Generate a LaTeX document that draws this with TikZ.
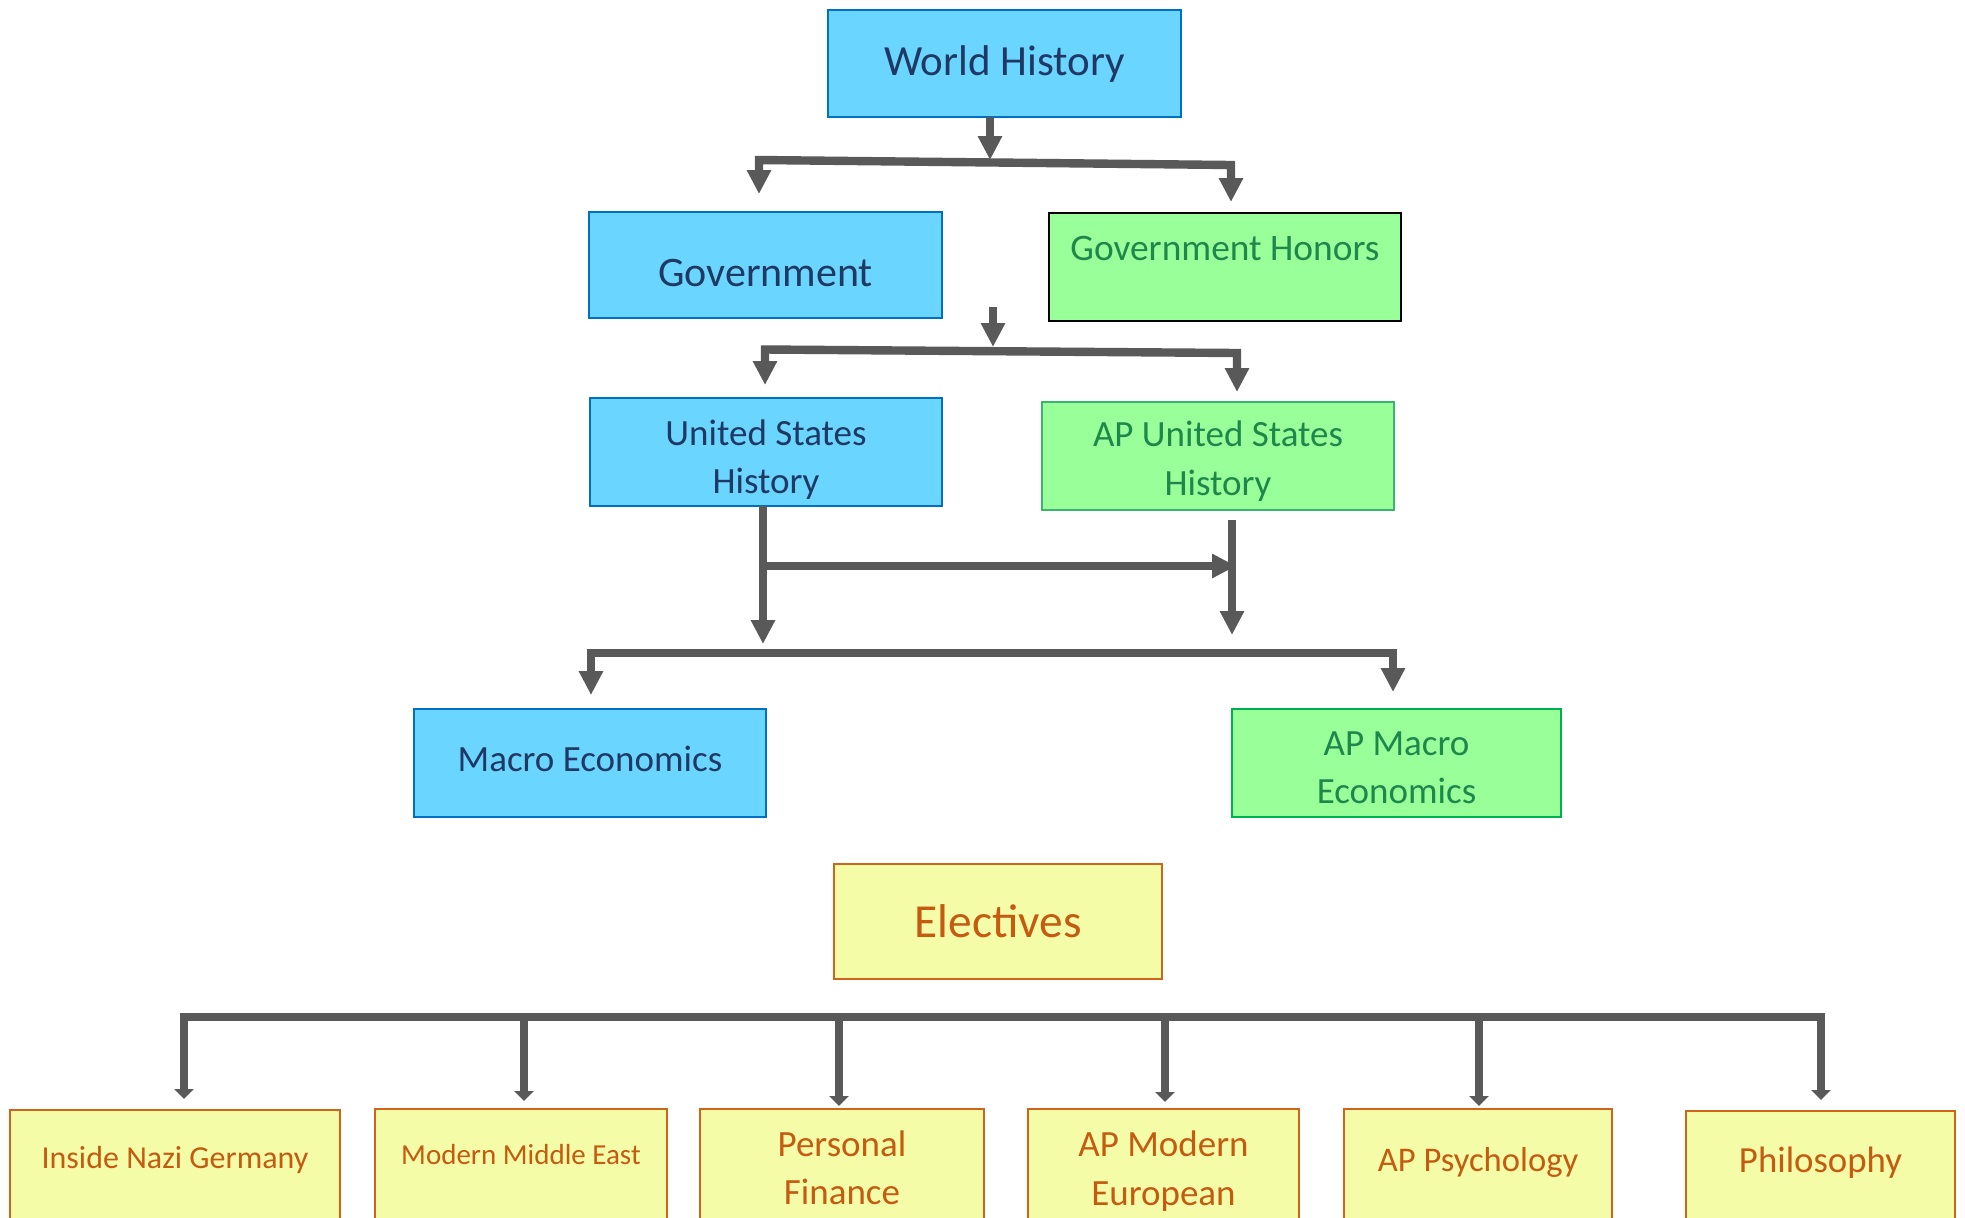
\documentclass[tikz,border=0pt]{standalone}
\usepackage{fontspec}
\setmainfont{Carlito}
\usetikzlibrary{arrows.meta}
\definecolor{bfill}{RGB}{106,214,255}
\definecolor{bdraw}{RGB}{0,112,192}
\definecolor{btext}{RGB}{31,56,100}
\definecolor{gfill}{RGB}{153,255,153}
\definecolor{gtext}{RGB}{30,135,75}
\definecolor{gdraw}{RGB}{60,179,113}
\definecolor{gdrawb}{RGB}{0,176,80}
\definecolor{yfill}{RGB}{245,252,168}
\definecolor{ydraw}{RGB}{208,100,26}
\definecolor{ytext}{RGB}{197,90,17}
\definecolor{conn}{RGB}{89,89,89}
\newcommand{\fs}[1]{\fontsize{#1pt}{#1pt}\selectfont}
\begin{document}
\begin{tikzpicture}[x=0.5pt,y=-0.5pt,
  box/.style={rectangle, inner sep=0pt, outer sep=0pt, line width=1.2pt},
  bluebox/.style={box, draw=bdraw, fill=bfill},
  greenbox/.style={box, draw=gdraw, fill=gfill},
  yelbox/.style={box, draw=ydraw, fill=yfill},
  txt/.style={anchor=base, inner sep=0pt},
  btxt/.style={txt, text=btext},
  gtxt/.style={txt, text=gtext},
  ytxt/.style={txt, text=ytext},
  wire/.style={draw=conn, line width=4.2pt, line join=miter,
    >={Triangle[length=12pt,width=11.5pt]}},
  swire/.style={draw=conn, line width=4pt, line join=miter,
    >={Triangle[length=5pt,width=9.5pt]}}]
\useasboundingbox (0,0) rectangle (1965,1217);
\fill[white] (0,0) rectangle (1965,1217);
\clip (0,0) rectangle (1965,1217);

% ---- boxes ----
\node[bluebox, minimum width=176.5pt, minimum height=53.5pt] (wh) at (1004.5,63.5) {};
\node[bluebox, minimum width=176.5pt, minimum height=53pt] (gov) at (765.5,265) {};
\node[box, draw=black, fill=gfill, minimum width=176pt, minimum height=54pt] (govh) at (1225,267) {};
\node[bluebox, minimum width=176pt, minimum height=54pt] (ush) at (766,452) {};
\node[greenbox, minimum width=176pt, minimum height=54pt] (apush) at (1218,456) {};
\node[bluebox, minimum width=176pt, minimum height=54pt] (mac) at (590,763) {};
\node[box, draw=gdrawb, fill=gfill, minimum width=164.5pt, minimum height=54pt] (apmac) at (1396.5,763) {};
\node[yelbox, minimum width=164pt, minimum height=57.5pt] (elec) at (998,921.5) {};
\node[yelbox, minimum width=165pt, minimum height=75pt] (nazi) at (175,1185) {};
\node[yelbox, minimum width=146pt, minimum height=75pt] (mme) at (521,1184) {};
\node[yelbox, minimum width=142pt, minimum height=75pt] (pf) at (842,1184) {};
\node[yelbox, minimum width=135.5pt, minimum height=75pt] (apme) at (1163.5,1184) {};
\node[yelbox, minimum width=134pt, minimum height=75pt] (appsy) at (1478,1184) {};
\node[yelbox, minimum width=134.5pt, minimum height=75pt] (phil) at (1820.5,1186) {};

% ---- texts ----
\node[btxt, font=\fs{21.5}] (wht) at (1004.5,75) {World History};
\node[btxt, font=\fs{21}] (govt) at (765.5,286.5) {Government};
\node[gtxt, font=\fs{18.7}] (govht) at (1225,260.5) {Government Honors};
\node[btxt, font=\fs{18.5}] (usht1) at (766,445.7) {United States};
\node[btxt, font=\fs{18.5}] (usht2) at (766,493) {History};
\node[gtxt, font=\fs{18.5}] (apusht1) at (1218,446.7) {AP United States};
\node[gtxt, font=\fs{18.5}] (apusht2) at (1218,495) {History};
\node[btxt, font=\fs{18.5}] (mact) at (590,771.7) {Macro Economics};
\node[gtxt, font=\fs{18.5}] (apmact1) at (1396.5,755) {AP Macro};
\node[gtxt, font=\fs{18.5}] (apmact2) at (1396.5,803) {Economics};
\node[ytxt, font=\fs{23.7}] (elect) at (998,937) {Electives};
\node[ytxt, font=\fs{16}] (nazit) at (175,1168) {Inside Nazi Germany};
\node[ytxt, font=\fs{14.5}] (mmet) at (521,1164) {Modern Middle East};
\node[ytxt, font=\fs{18.5}] (pft1) at (842,1156) {Personal};
\node[ytxt, font=\fs{18.5}] (pft2) at (842,1204) {Finance};
\node[ytxt, font=\fs{18.5}] (apmet1) at (1163.5,1156) {AP Modern};
\node[ytxt, font=\fs{18.5}] (apmet2) at (1163.5,1205) {European};
\node[ytxt, font=\fs{17.3}] (appsyt) at (1478,1171.7) {AP Psychology};
\node[ytxt, font=\fs{18.4}] (philt) at (1820.5,1172) {Philosophy};

% ---- connector points ----
\coordinate (a0) at (990,117);
\coordinate (a1) at (990,160);
\coordinate (aL) at (759,160);
\coordinate (aR) at (1231,165);
\coordinate (aLt) at (759,194);
\coordinate (aRt) at (1231,202);

\coordinate (b0) at (993,307);
\coordinate (b1) at (993,347);
\coordinate (bL) at (765,349.5);
\coordinate (bR) at (1237,353);
\coordinate (bLt) at (765,385);
\coordinate (bRt) at (1237,392);

\coordinate (c0) at (763,506);
\coordinate (c1) at (763,644);
\coordinate (cm) at (763,566);
\coordinate (cmt) at (1236,566);
\coordinate (d0) at (1232,520);
\coordinate (d1) at (1232,635);
\coordinate (eL) at (591,653);
\coordinate (eR) at (1393,653);
\coordinate (eLt) at (591,695);
\coordinate (eRt) at (1393,692);

\coordinate (fL) at (184,1017);
\coordinate (fR) at (1821,1017);
\coordinate (f1t) at (184,1099);
\coordinate (f6t) at (1821,1100);
\coordinate (f2) at (524,1017);
\coordinate (f2t) at (524,1101);
\coordinate (f3) at (839,1017);
\coordinate (f3t) at (839,1106);
\coordinate (f4) at (1165,1017);
\coordinate (f4t) at (1165,1102);
\coordinate (f5) at (1479,1017);
\coordinate (f5t) at (1479,1106);

% ---- connectors ----
\draw[wire,->] (a0) -- (a1);
\draw[wire,<->] (aLt) -- (aL) -- (aR) -- (aRt);

\draw[wire,->] (b0) -- (b1);
\draw[wire,<->] (bLt) -- (bL) -- (bR) -- (bRt);

\draw[wire,->] (c0) -- (c1);
\draw[wire,->] (cm) -- (cmt);
\draw[wire,->] (d0) -- (d1);
\draw[wire,<->] (eLt) -- (eL) -- (eR) -- (eRt);

\draw[swire,<->] (f1t) -- (fL) -- (fR) -- (f6t);
\draw[swire,->] (f2) -- (f2t);
\draw[swire,->] (f3) -- (f3t);
\draw[swire,->] (f4) -- (f4t);
\draw[swire,->] (f5) -- (f5t);
\end{tikzpicture}
\end{document}
